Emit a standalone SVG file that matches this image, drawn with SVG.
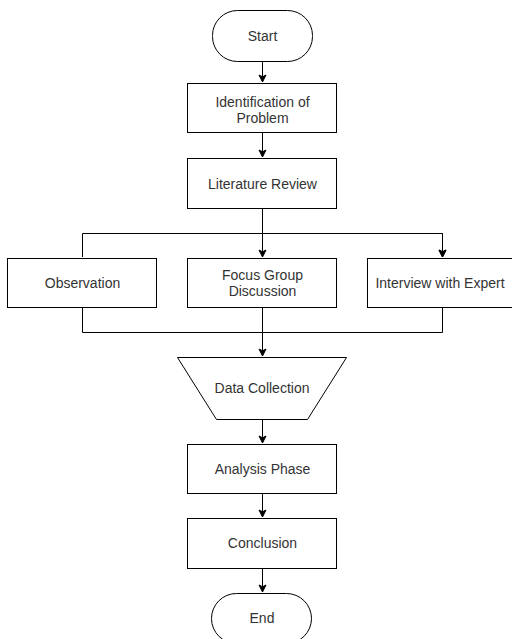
<svg xmlns="http://www.w3.org/2000/svg" width="512" height="639" viewBox="0 0 512 639">
<defs>
<marker id="arr" markerWidth="10" markerHeight="10" refX="8" refY="5" orient="auto" markerUnits="userSpaceOnUse">
<path d="M1,1.5 L8,5 L1,8.5 L2.8,5 Z" fill="#000" stroke="#000" stroke-width="1"/>
</marker>
</defs>
<style>
.n{fill:#fff;stroke:#000;stroke-width:1}
.t{font-family:"Liberation Sans",Arial,sans-serif;font-size:14px;fill:#333;text-anchor:middle;dominant-baseline:central}
.c{fill:none;stroke:#000;stroke-width:1}
</style>
<rect width="512" height="639" fill="#fff"/>
<g id="connectors">
<path class="c" d="M262.5,62 V82" marker-end="url(#arr)"/>
<path class="c" d="M262.5,133 V157" marker-end="url(#arr)"/>
<path class="c" d="M262.5,209 V257" marker-end="url(#arr)"/>
<path class="c" d="M82.5,257 V233.5 H442.5 V257" marker-end="url(#arr)"/>
<path class="c" d="M442.5,233.5 V257" marker-end="url(#arr)"/>
<path class="c" d="M262.5,308 V356" marker-end="url(#arr)"/>
<path class="c" d="M82.5,308 V332.5 H442.5 V308"/>
<path class="c" d="M262.5,419 V443" marker-end="url(#arr)"/>
<path class="c" d="M262.5,493 V517" marker-end="url(#arr)"/>
<path class="c" d="M262.5,568 V592" marker-end="url(#arr)"/>
</g>
<g id="start"><rect class="n" x="212.5" y="10.5" width="100" height="51" rx="25" ry="25"/><text class="t" x="262.5" y="36">Start</text></g>
<g id="identification"><rect class="n" x="187.5" y="83.5" width="149" height="49"/><text class="t" x="262.5" y="102">Identification of</text><text class="t" x="262.5" y="118">Problem</text></g>
<g id="literature"><rect class="n" x="187.5" y="158.5" width="149" height="50"/><text class="t" x="262.5" y="184">Literature Review</text></g>
<g id="observation"><rect class="n" x="7.5" y="258.5" width="149" height="49"/><text class="t" x="82.5" y="283">Observation</text></g>
<g id="focus"><rect class="n" x="187.5" y="258.5" width="149" height="49"/><text class="t" x="262.5" y="275">Focus Group</text><text class="t" x="262.5" y="291">Discussion</text></g>
<g id="interview"><rect class="n" x="367.5" y="258.5" width="150" height="49"/><text class="t" x="440" y="283">Interview with Expert</text></g>
<g id="datacollection"><path class="n" d="M177.5,357.5 H346.5 L307.5,419.5 H216.5 Z"/><text class="t" x="262" y="388">Data Collection</text></g>
<g id="analysis"><rect class="n" x="187.5" y="444.5" width="149" height="49"/><text class="t" x="262.5" y="469">Analysis Phase</text></g>
<g id="conclusion"><rect class="n" x="187.5" y="518.5" width="149" height="50"/><text class="t" x="262.5" y="543">Conclusion</text></g>
<g id="end"><rect class="n" x="211.5" y="593.5" width="100" height="50" rx="25" ry="25"/><text class="t" x="262" y="618">End</text></g>
</svg>
